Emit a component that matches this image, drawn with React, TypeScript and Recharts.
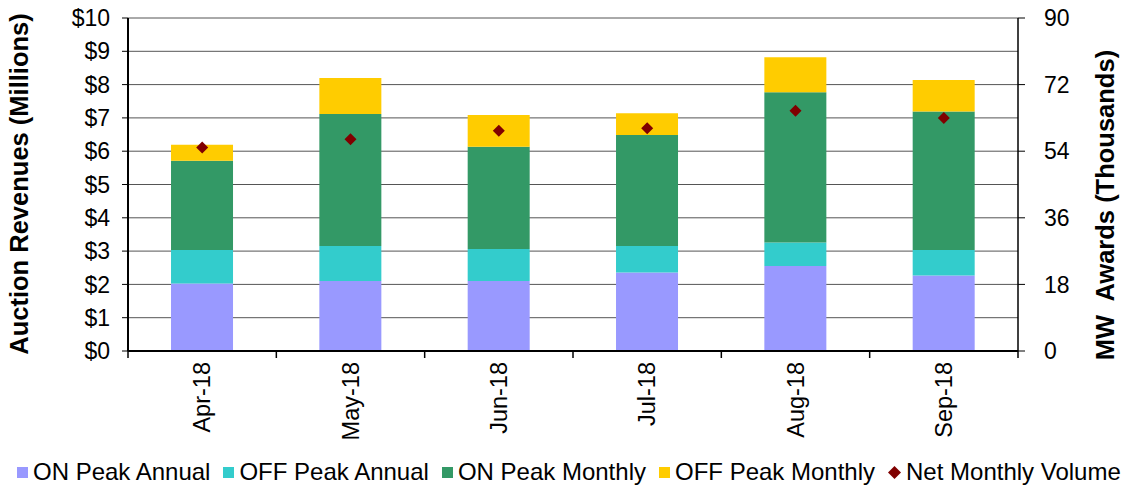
import { ComposedChart, Bar, Scatter, XAxis, YAxis, CartesianGrid, Legend } from 'recharts';

const months = ['Apr-18', 'May-18', 'Jun-18', 'Jul-18', 'Aug-18', 'Sep-18'];
const onPeakAnnual = [2.03, 2.1, 2.1, 2.36, 2.55, 2.27];
const offPeakAnnual = [1.0, 1.05, 0.96, 0.79, 0.71, 0.76];
const onPeakMonthly = [2.68, 3.97, 3.07, 3.34, 4.51, 4.16];
const offPeakMonthly = [0.48, 1.08, 0.96, 0.65, 1.05, 0.95];
const netVolume = [55.0, 57.2, 59.5, 60.2, 64.9, 63.0];

const leftTicks = [0, 1, 2, 3, 4, 5, 6, 7, 8, 9, 10];
const rightTicks = [0, 18, 36, 54, 72, 90];

const data = months.map((m, i) => ({
  month: m,
  onA: onPeakAnnual[i],
  offA: offPeakAnnual[i],
  onM: onPeakMonthly[i],
  offM: offPeakMonthly[i],
  net: netVolume[i],
}));

const FONT = '"Liberation Sans", Arial, sans-serif';
const W = 1130;
const H = 489;
const LEFT_W = 128;
const RIGHT_W = 112;
const BAND = (W - LEFT_W - RIGHT_W) / months.length;

const legendItems = [
  { label: 'ON Peak Annual', color: '#9999FF', kind: 'square' },
  { label: 'OFF Peak Annual', color: '#33CCCC', kind: 'square' },
  { label: 'ON Peak Monthly', color: '#339966', kind: 'square' },
  { label: 'OFF Peak Monthly', color: '#FFCC00', kind: 'square' },
  { label: 'Net Monthly Volume', color: '#800000', kind: 'diamond' },
];

const Diamond = (props: any) => {
  const { cx, cy } = props;
  const r = 6;
  return (
    <polygon
      points={`${cx},${cy - r} ${cx + r},${cy} ${cx},${cy + r} ${cx - r},${cy}`}
      fill="#800000"
    />
  );
};

const MonthTick = (props: any) => {
  const { x, y, payload, index } = props;
  return (
    <g>
      <line x1={x - BAND / 2} y1={y - 8} x2={x - BAND / 2} y2={y - 1} stroke="#000" strokeWidth={1.5} />
      {index === months.length - 1 && (
        <line x1={x + BAND / 2} y1={y - 8} x2={x + BAND / 2} y2={y - 1} stroke="#000" strokeWidth={1.5} />
      )}
      <text
        x={x}
        y={y + 3}
        transform={`rotate(-90, ${x}, ${y + 3})`}
        textAnchor="end"
        dominantBaseline="central"
        fontSize={23.5}
        fontFamily={FONT}
        fill="#000"
      >
        {payload.value}
      </text>
    </g>
  );
};

const renderLegend = () => (
  <div
    style={{
      display: 'flex',
      alignItems: 'center',
      height: 38,
      paddingTop: 4,
      paddingLeft: 17,
      boxSizing: 'border-box',
      fontFamily: FONT,
      fontSize: 24,
      color: '#000',
      whiteSpace: 'nowrap',
    }}
  >
    {legendItems.map((it) => (
      <div key={it.label} style={{ display: 'flex', alignItems: 'center', marginRight: 13 }}>
        {it.kind === 'square' ? (
          <span style={{ width: 11, height: 11, background: it.color, marginRight: 5, display: 'inline-block' }} />
        ) : (
          <svg width={13} height={13} style={{ marginRight: 5 }}>
            <polygon points="6.5,0 13,6.5 6.5,13 0,6.5" fill={it.color} />
          </svg>
        )}
        <span>{it.label}</span>
      </div>
    ))}
  </div>
);

const AxisTitle = ({ x, y, text }: { x: number; y: number; text: string }) => (
  <text
    x={x}
    y={y}
    transform={`rotate(-90, ${x}, ${y})`}
    textAnchor="middle"
    dominantBaseline="central"
    fontSize={25.5}
    fontWeight="bold"
    fontFamily={FONT}
    fill="#000"
    style={{ whiteSpace: 'pre' }}
  >
    {text}
  </text>
);

export default function App() {
  return (
    <div style={{ position: 'absolute', left: 0, top: 0, background: '#fff' }}>
      <ComposedChart
        width={W}
        height={H}
        data={data}
        barCategoryGap="29%"
        margin={{ top: 18, right: 0, bottom: 0, left: 0 }}
      >
        <CartesianGrid vertical={false} stroke="#555" strokeWidth={1} yAxisId="left" />
        <XAxis
          dataKey="month"
          height={100}
          tickLine={false}
          axisLine={{ stroke: '#000', strokeWidth: 2 }}
          tick={<MonthTick />}
          interval={0}
        />
        <YAxis
          yAxisId="left"
          orientation="left"
          width={LEFT_W}
          domain={[0, 10]}
          ticks={leftTicks}
          interval={0}
          tickFormatter={(v: number) => `$${v}`}
          tickSize={6}
          tickMargin={12}
          tickLine={{ stroke: '#000' }}
          axisLine={{ stroke: '#000', strokeWidth: 2 }}
          tick={{ fontSize: 23, fontFamily: FONT, fill: '#000' }}
          label={() => <AxisTitle x={19} y={184} text="Auction Revenues (Millions)" />}
        />
        <YAxis
          yAxisId="right"
          orientation="right"
          width={RIGHT_W}
          domain={[0, 90]}
          ticks={rightTicks}
          interval={0}
          tickSize={7}
          tickMargin={19}
          tickLine={{ stroke: '#000' }}
          axisLine={{ stroke: '#000', strokeWidth: 1.5 }}
          tick={{ fontSize: 23, fontFamily: FONT, fill: '#000', textAnchor: 'start' }}
          label={() => <AxisTitle x={1105} y={205} text={'MW  Awards (Thousands)'} />}
        />
        <Bar yAxisId="left" dataKey="onA" stackId="s" fill="#9999FF" isAnimationActive={false} />
        <Bar yAxisId="left" dataKey="offA" stackId="s" fill="#33CCCC" isAnimationActive={false} />
        <Bar yAxisId="left" dataKey="onM" stackId="s" fill="#339966" isAnimationActive={false} />
        <Bar yAxisId="left" dataKey="offM" stackId="s" fill="#FFCC00" isAnimationActive={false} />
        <Scatter yAxisId="right" dataKey="net" shape={<Diamond />} isAnimationActive={false} />
        <Legend verticalAlign="bottom" height={38} content={renderLegend} />
      </ComposedChart>
    </div>
  );
}
